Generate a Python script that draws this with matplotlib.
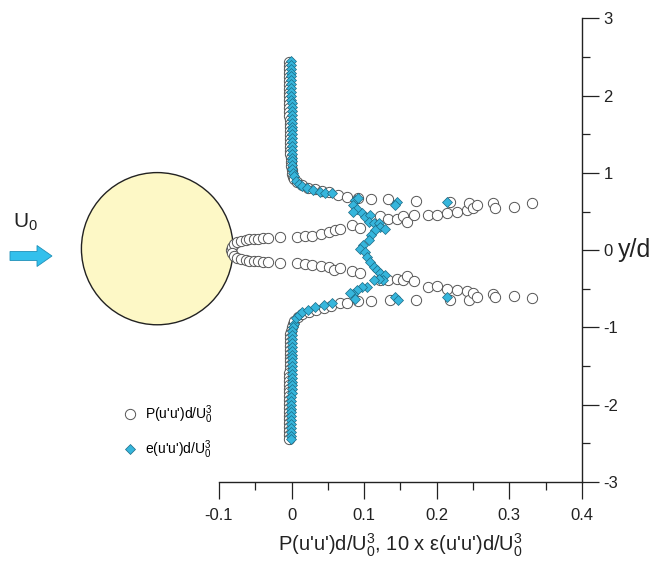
import numpy as np
import matplotlib
matplotlib.use("Agg")
import matplotlib.pyplot as plt
from matplotlib.patches import Ellipse, FancyArrow

plt.rcParams['font.family'] = ['Liberation Sans', 'DejaVu Sans']
plt.rcParams['mathtext.fontset'] = 'custom'
plt.rcParams['mathtext.rm'] = 'Liberation Sans'
plt.rcParams['mathtext.it'] = 'Liberation Sans:italic'

# ---- data ----
# P(u'u')d/U0^3 (open circles)
p_wall_top_y = [2.44, 2.39, 2.34, 2.29, 2.24, 2.19, 2.14, 2.09, 2.04, 1.99, 1.94, 1.89, 1.84, 1.79, 1.74, 1.69,
                1.64, 1.59, 1.54, 1.49, 1.44, 1.39, 1.34, 1.29, 1.24, 1.19, 1.14, 1.09, 1.04, 0.99, 0.95]
p_wall_top_x = [-0.003, -0.003, -0.003, -0.003, -0.003, -0.003, -0.003, -0.003, -0.003, -0.003, -0.003, -0.003,
                -0.003, -0.003, -0.003, -0.002, -0.002, -0.002, -0.002, -0.002, -0.002, -0.002, -0.002, -0.002,
                -0.002, -0.001, -0.001, -0.001, 0.0, 0.001, 0.002]
p_wall_bot_y = [-0.95, -0.99, -1.04, -1.09, -1.14, -1.19, -1.24, -1.29, -1.34, -1.39, -1.44, -1.49, -1.54, -1.59,
                -1.64, -1.69, -1.74, -1.79, -1.84, -1.89, -1.94, -1.99, -2.04, -2.09, -2.14, -2.19, -2.24, -2.29,
                -2.34, -2.39, -2.44]
p_wall_bot_x = [0.002, 0.0, -0.001, -0.002, -0.002, -0.002, -0.002, -0.002, -0.002, -0.002, -0.002, -0.002,
                -0.002, -0.003, -0.003, -0.003, -0.003, -0.003, -0.003, -0.003, -0.003, -0.003, -0.003, -0.003,
                -0.003, -0.003, -0.003, -0.003, -0.003, -0.003, -0.003]
p_bend_x = [0.004, 0.008, 0.014, 0.022, 0.032, 0.042, 0.052, 0.064, 0.076,
            0.004, 0.009, 0.015, 0.024, 0.034, 0.044, 0.054, 0.067, 0.076]
p_bend_y = [0.92, 0.88, 0.84, 0.81, 0.79, 0.77, 0.75, 0.72, 0.69,
            -0.92, -0.87, -0.83, -0.80, -0.77, -0.75, -0.72, -0.68, -0.68]
p_wake_x = [-0.083, -0.082, -0.080, -0.075, -0.069, -0.063, -0.058, -0.052, -0.046, -0.040, -0.033, -0.016,
            0.008, 0.018, 0.028, 0.040, 0.052, 0.060, 0.067,
            -0.082, -0.080, -0.075, -0.069, -0.063, -0.058, -0.052, -0.046, -0.040, -0.033, -0.016,
            0.008, 0.018, 0.028, 0.040, 0.052, 0.058, 0.067]
p_wake_y = [0.0, 0.04, 0.08, 0.11, 0.125, 0.135, 0.14, 0.145, 0.15, 0.155, 0.16, 0.165,
            0.17, 0.18, 0.19, 0.21, 0.24, 0.26, 0.27,
            -0.04, -0.08, -0.105, -0.12, -0.13, -0.135, -0.14, -0.145, -0.15, -0.155, -0.16,
            -0.165, -0.175, -0.19, -0.20, -0.22, -0.25, -0.23]
p_outer_x = [0.083, 0.094, 0.092, 0.110, 0.122, 0.133, 0.133, 0.145, 0.154, 0.159, 0.168, 0.172, 0.188, 0.200,
             0.214, 0.218, 0.228, 0.241, 0.244, 0.250, 0.255, 0.278, 0.280, 0.306, 0.331,
             0.083, 0.094, 0.092, 0.110, 0.122, 0.135, 0.133, 0.145, 0.154, 0.159, 0.168, 0.172, 0.188, 0.200,
             0.214, 0.218, 0.228, 0.241, 0.244, 0.250, 0.255, 0.278, 0.280, 0.306, 0.331]
p_outer_y = [0.33, 0.29, 0.67, 0.66, 0.44, 0.41, 0.66, 0.41, 0.44, 0.37, 0.455, 0.64, 0.455, 0.455,
             0.48, 0.62, 0.50, 0.52, 0.61, 0.55, 0.59, 0.61, 0.55, 0.56, 0.61,
             -0.27, -0.30, -0.66, -0.66, -0.38, -0.64, -0.38, -0.37, -0.38, -0.34, -0.40, -0.64, -0.47, -0.46,
             -0.50, -0.64, -0.51, -0.53, -0.64, -0.56, -0.60, -0.57, -0.61, -0.59, -0.62]

# 10 x e(u'u')d/U0^3 (diamonds)
e_wall_top_y = [2.45, 2.40, 2.35, 2.30, 2.25, 2.20, 2.15, 2.10, 2.05, 2.00, 1.95, 1.90, 1.85, 1.80, 1.75, 1.70,
                1.65, 1.60, 1.55, 1.50, 1.45, 1.40, 1.35, 1.30, 1.25, 1.20, 1.15, 1.10, 1.05, 1.00, 0.96]
e_wall_top_x = [-0.001, -0.001, -0.001, -0.001, -0.001, -0.001, -0.001, -0.001, -0.001, -0.001, -0.001, 0.0,
                0.0, 0.0, 0.0, 0.0, 0.0, 0.0, 0.0, 0.0, 0.0, 0.0, 0.0, 0.0,
                0.0, 0.0, 0.001, 0.001, 0.001, 0.002, 0.003]
e_wall_bot_y = [-0.96, -1.00, -1.05, -1.10, -1.15, -1.20, -1.25, -1.30, -1.35, -1.40, -1.45, -1.50, -1.55, -1.60,
                -1.65, -1.70, -1.75, -1.80, -1.85, -1.90, -1.95, -2.00, -2.05, -2.10, -2.15, -2.20, -2.25, -2.30,
                -2.35, -2.40, -2.45]
e_wall_bot_x = [0.003, 0.002, 0.001, 0.001, 0.0, 0.0, 0.0, 0.0, 0.0, 0.0, 0.0, 0.0,
                0.0, 0.0, 0.0, 0.0, 0.0, 0.0, 0.0, -0.001, -0.001, -0.001, -0.001, -0.001,
                -0.001, -0.001, -0.001, -0.001, -0.001, -0.001, -0.001]
e_bend_x = [0.006, 0.010, 0.015, 0.021, 0.030, 0.039, 0.046, 0.055,
            0.006, 0.010, 0.015, 0.023, 0.032, 0.044, 0.055]
e_bend_y = [0.90, 0.86, 0.83, 0.80, 0.78, 0.76, 0.745, 0.735,
            -0.88, -0.84, -0.80, -0.77, -0.735, -0.705, -0.68]
e_core_x = [0.088, 0.092, 0.085, 0.090, 0.085, 0.097, 0.101, 0.108, 0.106, 0.113, 0.120, 0.122, 0.129, 0.115,
            0.110, 0.106, 0.099, 0.094,
            0.101, 0.104, 0.108, 0.113, 0.117, 0.122, 0.129, 0.126, 0.120, 0.113, 0.104, 0.097, 0.090, 0.085,
            0.088, 0.081]
e_core_y = [0.65, 0.67, 0.58, 0.54, 0.50, 0.48, 0.43, 0.455, 0.37, 0.35, 0.35, 0.30, 0.28, 0.26,
            0.195, 0.13, 0.065, 0.022,
            -0.022, -0.087, -0.152, -0.216, -0.26, -0.30, -0.325, -0.39, -0.37, -0.39, -0.476, -0.476, -0.52, -0.563,
            -0.628, -0.55]
e_far_x = [0.145, 0.143, 0.214, 0.143, 0.147, 0.214]
e_far_y = [0.63, 0.59, 0.62, -0.60, -0.64, -0.61]

x_ticks = [-0.1, 0, 0.1, 0.2, 0.3, 0.4]
x_tick_labels = ['-0.1', '0', '0.1', '0.2', '0.3', '0.4']
x_minor = [-0.05, 0.05, 0.15, 0.25, 0.35]
y_ticks = [-3, -2, -1, 0, 1, 2, 3]
y_tick_labels = ['-3', '-2', '-1', '0', '1', '2', '3']
y_minor = [-2.5, -1.5, -0.5, 0.5, 1.5, 2.5]

p_x = p_wall_top_x + p_wall_bot_x + p_bend_x + p_wake_x + p_outer_x
p_y = p_wall_top_y + p_wall_bot_y + p_bend_y + p_wake_y + p_outer_y
e_x = e_wall_top_x + e_wall_bot_x + e_bend_x + e_core_x + e_far_x
e_y = e_wall_top_y + e_wall_bot_y + e_bend_y + e_core_y + e_far_y

fig = plt.figure(figsize=(6.62, 5.63), dpi=100)
ax = fig.add_axes([0.3308, 0.1439, 0.5483, 0.8233])

# cylinder sketch
cyl = Ellipse((-0.185, 0.02), 0.209, 1.97, facecolor='#FDF8C6', edgecolor='#222222',
              linewidth=1.0, clip_on=False, zorder=1)
ax.add_patch(cyl)

ax.plot(p_x, p_y, linestyle='none', marker='o', markersize=7.4, markerfacecolor='white',
        markeredgecolor='#555555', markeredgewidth=0.7, clip_on=False, zorder=3,
        label="P(u'u')d/$\\mathrm{U}_0^3$")
ax.plot(e_x, e_y, linestyle='none', marker='D', markersize=5.6, markerfacecolor='#36B6DC',
        markeredgecolor='#1C6A85', markeredgewidth=0.5, clip_on=False, zorder=4,
        label="e(u'u')d/$\\mathrm{U}_0^3$")

ax.set_xlim(-0.1, 0.4)
ax.set_ylim(-3, 3)
for s in ['top', 'left']:
    ax.spines[s].set_visible(False)
for s in ['bottom', 'right']:
    ax.spines[s].set_linewidth(1.0)
    ax.spines[s].set_color('#222222')

ax.yaxis.tick_right()
ax.set_xticks(x_ticks)
ax.set_xticklabels(x_tick_labels)
ax.set_xticks(x_minor, minor=True)
ax.set_yticks(y_ticks)
ax.set_yticklabels(y_tick_labels)
ax.set_yticks(y_minor, minor=True)
ax.tick_params(which='major', direction='out', length=12, width=0.9, color='#222222',
               labelsize=12, labelcolor='#222222')
ax.tick_params(which='minor', direction='out', length=6, width=0.9, color='#222222')
ax.tick_params(axis='x', which='major', pad=7)
ax.tick_params(axis='y', which='major', pad=3.5)

ax.set_xlabel("P(u'u')d/$\\mathrm{U}_0^3$, 10 x \u03b5(u'u')d/$\\mathrm{U}_0^3$", fontsize=14.5, color='#222222')
ax.xaxis.set_label_coords(0.5, -0.108)
ax.yaxis.set_label_position('right')
ax.set_ylabel("y/d", fontsize=18, rotation=0, ha='left', va='center', color='#222222')
ax.yaxis.set_label_coords(1.099, 0.5)

ax.legend(loc='center left', bbox_to_anchor=(0.186, 0.2318), bbox_transform=fig.transFigure,
          frameon=False, numpoints=1, handlelength=1.0, handletextpad=0.6, borderpad=0,
          borderaxespad=0, labelspacing=0.9, fontsize=10)

# free-stream arrow and label
arrow = FancyArrow(0.10, 3.07, 0.42, 0, width=0.09, head_width=0.21, head_length=0.15,
                   length_includes_head=True, transform=fig.dpi_scale_trans,
                   facecolor='#33C0EC', edgecolor='#2090B8', linewidth=0.6)
fig.add_artist(arrow)
fig.text(13 / 662, 1 - 228 / 563, "$\\mathrm{U}_0$", fontsize=15, color='#222222', va='baseline')

plt.savefig("out.png", dpi=100)
